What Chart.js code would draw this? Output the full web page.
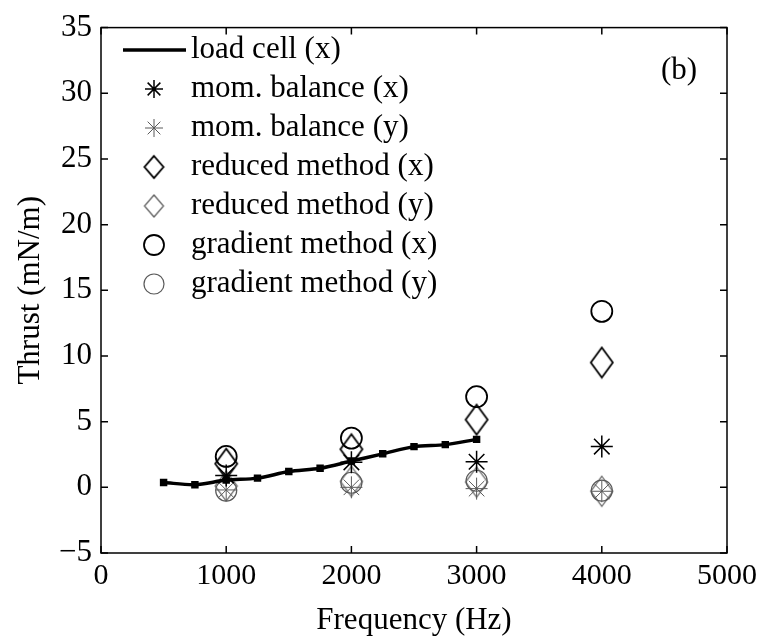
<!DOCTYPE html>
<html>
<head>
<meta charset="utf-8">
<script src="https://cdn.jsdelivr.net/npm/chart.js@4"></script>
<style>
  html, body { margin: 0; padding: 0; background: #fff; }
  #wrap { width: 766px; height: 643px; }
</style>
</head>
<body>
<div id="wrap"><canvas id="thrust-canvas"></canvas></div>
<script>
// ========== Data
let freqs = [1000, 2000, 3000, 4000];
let loadFreqs = [500, 750, 1000, 1250, 1500, 1750, 2000, 2250, 2500, 2750, 3000];
let loadCell = [0.37, 0.2, 0.55, 0.7, 1.2, 1.45, 2.0, 2.55, 3.1, 3.25, 3.65];
let momX = [0.9, 1.9, 1.95, 3.1];
let momY = [-0.2, 0.0, -0.1, -0.3];
let redX = [1.8, 2.9, 5.15, 9.5];
let redY = [0.1, 0.45, 0.4, -0.3];
let gradX = [2.35, 3.75, 6.9, 13.4];
let gradY = [-0.25, 0.35, 0.5, -0.25];
let xTicks = [0, 1000, 2000, 3000, 4000, 5000];
let yTicks = [-5, 0, 5, 10, 15, 20, 25, 30, 35];

// ========== Colors / fonts
let darkColor = '#000000';
let greyColor = '#5a5a5a';
let serif = '"Liberation Serif", "Times New Roman", serif';

// diamond marker (taller than wide, like the scan)
function makeDiamond(w, h, color, lw) {
    let c = document.createElement('canvas');
    c.width = w + 4; c.height = h + 4;
    let g = c.getContext('2d');
    g.strokeStyle = color;
    g.lineWidth = lw;
    g.beginPath();
    g.moveTo(c.width / 2, 2);
    g.lineTo(c.width - 2, c.height / 2);
    g.lineTo(c.width / 2, c.height - 2);
    g.lineTo(2, c.height / 2);
    g.closePath();
    g.stroke();
    return c;
}
let diamondDark = makeDiamond(22, 30, darkColor, 1.8);
let diamondGrey = makeDiamond(22, 30, greyColor, 1.2);
let legDiamondDark = makeDiamond(19, 22, darkColor, 1.8);
let legDiamondGrey = makeDiamond(19, 22, greyColor, 1.2);

function pts(xs, ys) {
    return xs.map((x, i) => ({ x: x, y: ys[i] }));
}

// ========== Frame with inward ticks on all sides
let frameTicks = {
    id: 'frameTicks',
    afterDraw(chart) {
        let { ctx, chartArea: a, scales: { x, y } } = chart;
        ctx.save();
        ctx.strokeStyle = darkColor;
        ctx.lineWidth = 1.5;
        ctx.strokeRect(a.left, a.top, a.width, a.height);
        ctx.beginPath();
        xTicks.forEach(v => {
            let px = x.getPixelForValue(v);
            ctx.moveTo(px, a.bottom); ctx.lineTo(px, a.bottom - 7);
            ctx.moveTo(px, a.top); ctx.lineTo(px, a.top + 7);
        });
        yTicks.forEach(v => {
            let py = y.getPixelForValue(v);
            ctx.moveTo(a.left, py); ctx.lineTo(a.left + 7, py);
            ctx.moveTo(a.right, py); ctx.lineTo(a.right - 7, py);
        });
        ctx.stroke();

        // (b) label
        ctx.fillStyle = darkColor;
        ctx.font = '31px ' + serif;
        ctx.textAlign = 'left';
        ctx.textBaseline = 'middle';
        ctx.fillText('(b)', 661, 71);
        ctx.restore();
    }
};

// ========== Legend drawn inside the axes, no box
let insideLegend = {
    id: 'insideLegend',
    afterDraw(chart) {
        let ctx = chart.ctx;
        let rowY = 50, rowH = 39, markX = 154, textX = 191;
        ctx.save();
        chart.data.datasets.forEach((ds, i) => {
            let yy = rowY + i * rowH;
            ctx.strokeStyle = ds.borderColor;
            ctx.fillStyle = 'rgba(0,0,0,0)';
            ctx.lineWidth = ds.borderWidth || 1;
            if (ds.showLine) {
                ctx.beginPath();
                ctx.moveTo(123, yy); ctx.lineTo(186, yy);
                ctx.stroke();
            } else if (ds.pointStyle === 'star') {
                Chart.helpers.drawPoint(ctx, { pointStyle: 'star', radius: 9, borderWidth: ds.borderWidth, rotation: 0 }, markX, yy);
            } else if (ds.pointStyle === 'circle') {
                Chart.helpers.drawPoint(ctx, { pointStyle: 'circle', radius: 10, borderWidth: ds.borderWidth, rotation: 0 }, markX, yy);
            } else {
                let img = ds.borderColor === darkColor ? legDiamondDark : legDiamondGrey;
                ctx.drawImage(img, markX - img.width / 2, yy - img.height / 2);
            }
            ctx.fillStyle = darkColor;
            ctx.font = '31px ' + serif;
            ctx.textAlign = 'left';
            ctx.textBaseline = 'middle';
            ctx.fillText(ds.label, textX, yy);
        });
        ctx.restore();
    }
};

var thrustCanvas = document.getElementById('thrust-canvas');

var thrustChart = new Chart(thrustCanvas, {
    type: 'scatter',
    data: {
        datasets: [{
            label: 'load cell (x)',
            data: pts(loadFreqs, loadCell),
            showLine: true,
            borderColor: darkColor,
            backgroundColor: darkColor,
            borderWidth: 3.5,
            pointStyle: 'rect',
            pointRadius: 2.8,
            tension: 0.3
        }, {
            label: 'mom. balance (x)',
            data: pts(freqs, momX),
            borderColor: darkColor,
            borderWidth: 1.5,
            pointStyle: 'star',
            pointRadius: 11
        }, {
            label: 'mom. balance (y)',
            data: pts(freqs, momY),
            borderColor: greyColor,
            borderWidth: 1.0,
            pointStyle: 'star',
            pointRadius: 11
        }, {
            label: 'reduced method (x)',
            data: pts(freqs, redX),
            borderColor: darkColor,
            borderWidth: 1.8,
            pointStyle: diamondDark,
            pointRadius: 15
        }, {
            label: 'reduced method (y)',
            data: pts(freqs, redY),
            borderColor: greyColor,
            borderWidth: 1.2,
            pointStyle: diamondGrey,
            pointRadius: 15
        }, {
            label: 'gradient method (x)',
            data: pts(freqs, gradX),
            borderColor: darkColor,
            backgroundColor: 'transparent',
            borderWidth: 1.8,
            pointStyle: 'circle',
            pointRadius: 10.5
        }, {
            label: 'gradient method (y)',
            data: pts(freqs, gradY),
            borderColor: greyColor,
            backgroundColor: 'transparent',
            borderWidth: 1.2,
            pointStyle: 'circle',
            pointRadius: 10.5
        }]
    },
    options: {
        responsive: true,
        maintainAspectRatio: false,
        animation: false,
        layout: { padding: { left: 0, right: 39, top: 21, bottom: 0 } },
        plugins: {
            legend: { display: false },
            tooltip: { enabled: false }
        },
        scales: {
            x: {
                type: 'linear',
                min: 0,
                max: 5000,
                afterBuildTicks: s => { s.ticks = xTicks.map(v => ({ value: v })); },
                afterFit: s => { s.height = 90; },
                grid: { display: false, drawTicks: false },
                border: { display: false },
                ticks: {
                    color: darkColor,
                    padding: 5,
                    maxRotation: 0,
                    font: { family: serif, size: 30 },
                    callback: v => String(v)
                },
                title: {
                    display: true,
                    text: 'Frequency (Hz)',
                    color: darkColor,
                    padding: { top: 0, bottom: 4 },
                    font: { family: serif, size: 31 }
                }
            },
            y: {
                type: 'linear',
                min: -5,
                max: 35,
                afterBuildTicks: s => { s.ticks = yTicks.map(v => ({ value: v })); },
                afterFit: s => { s.width = 101; },
                grid: { display: false, drawTicks: false },
                border: { display: false },
                ticks: {
                    color: darkColor,
                    padding: 9,
                    font: { family: serif, size: 31 },
                    callback: v => String(v).replace('-', '\u2212')
                },
                title: {
                    display: true,
                    text: 'Thrust (mN/m)',
                    color: darkColor,
                    padding: { top: 12, bottom: 0 },
                    font: { family: serif, size: 31 }
                }
            }
        }
    },
    plugins: [frameTicks, insideLegend]
});
</script>
</body>
</html>
